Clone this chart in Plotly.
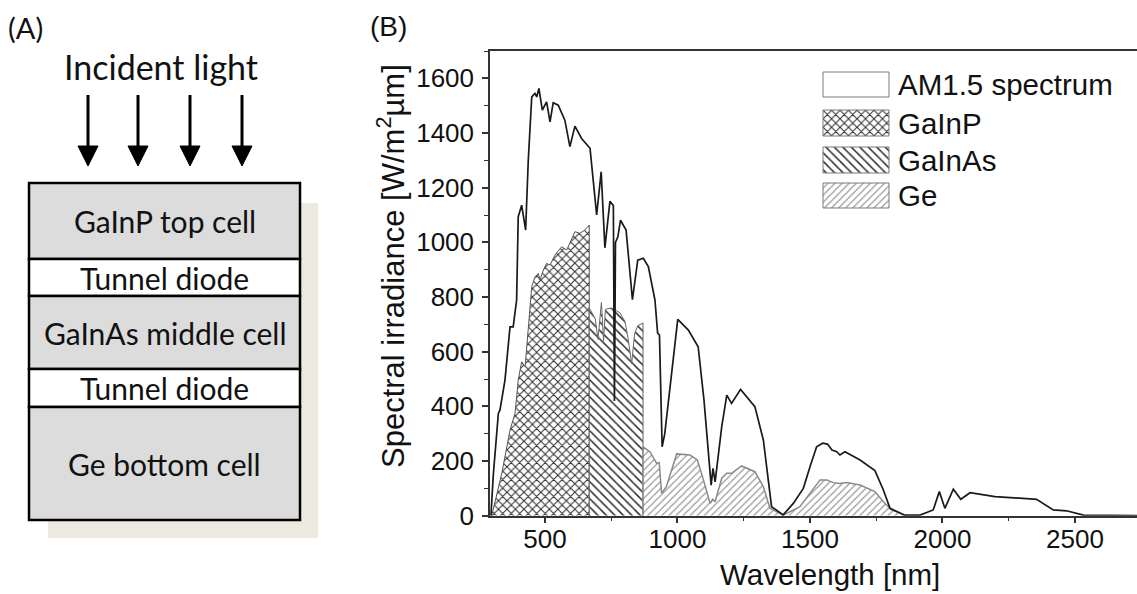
import plotly.graph_objects as go

# ---------------- data ----------------
am_wl = [296, 305, 324, 330, 349, 368, 380, 393, 399, 412, 427, 437, 450, 462, 469, 477, 490, 506, 519,
         531, 550, 575, 594, 613, 638, 670, 695, 712, 726, 745, 758, 762, 766, 775, 785, 806, 830, 850,
         871, 890, 915, 925, 932, 942, 952, 975, 1001, 1041, 1078, 1100, 1118, 1127, 1134, 1142, 1167,
         1186, 1204, 1238, 1292, 1324, 1355, 1399, 1437, 1475, 1500, 1525, 1548, 1566, 1583, 1601, 1613,
         1632, 1689, 1745, 1777, 1802, 1858, 1915, 1965, 1988, 2009, 2041, 2069, 2104, 2198, 2355, 2418,
         2468, 2532, 2750]
am_val = [0, 150, 374, 386, 496, 691, 691, 789, 1094, 1136, 1045, 1301, 1532, 1545, 1532, 1563, 1484, 1514, 1441,
          1511, 1502, 1447, 1350, 1425, 1380, 1344, 1100, 1258, 980, 1150, 1135, 420, 1000, 1020, 1081, 1045, 790, 935,
          942, 911, 789, 668, 661, 252, 300, 508, 718, 679, 618, 423, 216, 112, 173, 124, 326,
          441, 411, 462, 399, 277, 33, 3, 45, 100, 179, 252, 265, 262, 240, 234, 222,
          234, 204, 165, 94, 27, 2, 2, 21, 88, 27, 97, 60, 84, 70, 60, 21,
          18, 2, 0]

gainp_wl = [299, 337, 368, 387, 399, 412, 425, 437, 450, 462, 475, 481, 494, 506, 519, 538, 563, 582, 598,
            613, 632, 650, 667, 667]
gainp_val = [0, 155, 313, 375, 496, 563, 545, 691, 838, 874, 886, 862, 899, 923, 917, 954, 984, 972, 1008,
             1039, 1033, 1045, 1063, 0]

gainas_wl = [667, 667, 690, 700, 713, 721, 728, 750, 770, 783, 802, 815, 827, 838, 850, 866, 870, 870]
gainas_val = [0, 760, 720, 645, 780, 640, 755, 760, 750, 742, 710, 640, 555, 665, 695, 705, 705, 0]

ge_wl = [870, 870, 896, 921, 931, 940, 958, 997, 1047, 1075, 1098, 1123, 1133, 1142, 1167, 1186, 1204, 1242,
         1292, 1324, 1349, 1399, 1462, 1500, 1538, 1563, 1588, 1613, 1638, 1689, 1745, 1777, 1808, 1858]
ge_val = [0, 252, 234, 192, 194, 82, 106, 226, 222, 204, 131, 45, 60, 51, 137, 155, 155, 182,
          161, 106, 27, 2, 33, 82, 131, 131, 121, 118, 121, 112, 88, 51, 21, 2]

legend_labels = ["AM1.5 spectrum", "GaInP", "GaInAs", "Ge"]
layer_labels = ["GaInP top cell", "Tunnel diode", "GaInAs middle cell", "Tunnel diode", "Ge bottom cell"]

# ---------------- styles ----------------
W, H = 1137, 594
ARIAL = "Liberation Sans, Arial, sans-serif"
CAL = "Lato, Carlito, Calibri, sans-serif"

pat_gainp = dict(shape="x", size=6, solidity=0.3, fgcolor="#2a2a2a", bgcolor="white")
pat_gainas = dict(shape="\\", size=6, solidity=0.25, fgcolor="#2a2a2a", bgcolor="white")
pat_ge = dict(shape="/", size=5, solidity=0.25, fgcolor="#9a9a9a", bgcolor="white")

fig = go.Figure()

fig.add_trace(go.Scatter(x=gainp_wl, y=gainp_val, mode="lines", fill="tozeroy",
                         fillpattern=pat_gainp, line=dict(color="#555555", width=1),
                         xaxis="x", yaxis="y", showlegend=False))
fig.add_trace(go.Scatter(x=gainas_wl, y=gainas_val, mode="lines", fill="tozeroy",
                         fillpattern=pat_gainas, line=dict(color="#666666", width=1),
                         xaxis="x", yaxis="y", showlegend=False))
fig.add_trace(go.Scatter(x=ge_wl, y=ge_val, mode="lines", fill="tozeroy",
                         fillpattern=pat_ge, line=dict(color="#8a8a8a", width=1.5),
                         xaxis="x", yaxis="y", showlegend=False))
fig.add_trace(go.Scatter(x=am_wl, y=am_val, mode="lines",
                         line=dict(color="#1a1a1a", width=1.7),
                         xaxis="x", yaxis="y", showlegend=False))

# ---------------- custom legend (pixel overlay axes) ----------------
leg_x0, leg_x1 = 823, 889
leg_rows = [(72, 97), (110, 136), (147, 173), (183, 208)]
leg_pats = [None, pat_gainp, pat_gainas, pat_ge]
for (y0, y1), pat, lab in zip(leg_rows, leg_pats, legend_labels):
    kw = dict(fillpattern=pat) if pat else dict(fillcolor="white")
    fig.add_trace(go.Scatter(x=[leg_x0, leg_x1, leg_x1, leg_x0, leg_x0], y=[y0, y0, y1, y1, y0],
                             mode="lines", fill="toself", line=dict(color="#7a7a7a", width=1),
                             xaxis="x2", yaxis="y2", showlegend=False, hoverinfo="skip", **kw))

annotations = []
for (y0, y1), lab in zip(leg_rows, legend_labels):
    annotations.append(dict(x=896, y=(y0 + y1) / 2, xref="x2", yref="y2", text=lab, showarrow=False,
                            xanchor="left", yanchor="middle", font=dict(family=ARIAL, size=29.5, color="#111")))

# ---------------- panel A diagram ----------------
shapes = []
shapes.append(dict(type="rect", xref="x2", yref="y2", x0=48, x1=318, y0=203, y1=538,
                   fillcolor="#ECEAE0", line=dict(width=0), layer="below"))
layer_bounds = [183, 259, 296, 369, 407, 520]
layer_fill = ["#DCDCDC", "white", "#DCDCDC", "white", "#DCDCDC"]
for i, lab in enumerate(layer_labels):
    y0, y1 = layer_bounds[i], layer_bounds[i + 1]
    shapes.append(dict(type="rect", xref="x2", yref="y2", x0=29, x1=300, y0=y0, y1=y1,
                       fillcolor=layer_fill[i], line=dict(color="black", width=2.5)))
    annotations.append(dict(x=164.5, y=(y0 + y1) / 2, xref="x2", yref="y2", text=lab, showarrow=False,
                            xanchor="center", yanchor="middle", font=dict(family=CAL, size=30, color="#111")))
for ax in [88, 138, 190, 242]:
    shapes.append(dict(type="line", xref="x2", yref="y2", x0=ax, x1=ax, y0=95, y1=150,
                       line=dict(color="black", width=3)))
    shapes.append(dict(type="path", xref="x2", yref="y2",
                       path=f"M {ax-10},146 L {ax+10},146 L {ax},166 Z",
                       fillcolor="black", line=dict(color="black", width=1)))

annotations.append(dict(x=161, y=66, xref="x2", yref="y2", text="Incident light", showarrow=False,
                        xanchor="center", yanchor="middle", font=dict(family=CAL, size=34, color="#111")))
annotations.append(dict(x=6, y=27, xref="x2", yref="y2", text="(A)", showarrow=False,
                        xanchor="left", yanchor="middle", font=dict(family=CAL, size=29, color="#111")))
annotations.append(dict(x=368, y=26, xref="x2", yref="y2", text="(B)", showarrow=False,
                        xanchor="left", yanchor="middle", font=dict(family=ARIAL, size=28, color="#111")))

annotations.append(dict(x=830, y=574, xref="x2", yref="y2", text="Wavelength [nm]", showarrow=False,
                        xanchor="center", yanchor="middle", font=dict(family=ARIAL, size=29.5, color="#111")))
annotations.append(dict(x=391, y=266, xref="x2", yref="y2", text="Spectral irradiance [W/m<sup>2</sup>µm]",
                        showarrow=False, textangle=-90, xanchor="center", yanchor="middle",
                        font=dict(family=ARIAL, size=31, color="#111")))

axis_col = "#333333"
fig.update_layout(
    template="none",
    width=W, height=H, margin=dict(l=0, r=0, t=0, b=0, pad=0, autoexpand=False),
    paper_bgcolor="white", plot_bgcolor="rgba(0,0,0,0)",
    showlegend=False,
    xaxis=dict(domain=[490 / W, 1.0], range=[292.5, 2734], showgrid=False, zeroline=False,
               showline=True, linecolor=axis_col, linewidth=1.5, mirror=True, automargin=False,
               ticks="outside", ticklen=6, tickwidth=1.5, tickcolor=axis_col,
               tick0=0, dtick=500, ticklabelstandoff=-7,
               minor=dict(dtick=250, tick0=0, ticks="outside", ticklen=4, tickwidth=1.2, tickcolor=axis_col,
                          showgrid=False),
               tickfont=dict(family=ARIAL, size=26, color="#111")),
    yaxis=dict(domain=[(H - 515.7) / H, (H - 51) / H], range=[0, 1700], showgrid=False, zeroline=False,
               showline=True, linecolor=axis_col, linewidth=1.5, mirror=False, automargin=False,
               ticks="outside", ticklen=6, tickwidth=1.5, tickcolor=axis_col,
               tick0=0, dtick=200, ticklabelstandoff=3,
               minor=dict(dtick=100, tick0=0, ticks="outside", ticklen=4, tickwidth=1.2, tickcolor=axis_col,
                          showgrid=False),
               tickfont=dict(family=ARIAL, size=26, color="#111")),
    xaxis2=dict(domain=[0, 1], range=[0, W], visible=False, fixedrange=True, anchor="y2", automargin=False),
    yaxis2=dict(domain=[0, 1], range=[H, 0], visible=False, fixedrange=True, anchor="x2", automargin=False),
    shapes=shapes,
    annotations=annotations,
)

fig.write_html("out.html")
